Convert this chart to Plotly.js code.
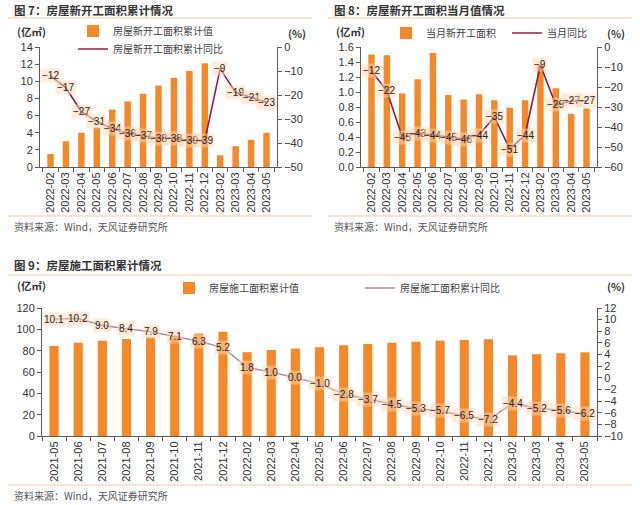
<!DOCTYPE html>
<html>
<head>
<meta charset="utf-8">
<script src="https://cdn.plot.ly/plotly-3.0.1.min.js"></script>
<style>
html,body{margin:0;padding:0;background:#fff;}
#chart{width:640px;height:505px;}
</style>
</head>
<body>
<div id="chart"></div>
<script>
// ---------- data ----------
const months7 = ['2022-02','2022-03','2022-04','2022-05','2022-06','2022-07','2022-08','2022-09','2022-10','2022-11','2022-12','2023-02','2023-03','2023-04','2023-05'];
const newStartCum = [1.52, 3.0, 4.0, 4.6, 6.7, 7.65, 8.55, 9.5, 10.4, 11.2, 12.1, 1.36, 2.43, 3.17, 4.0];
const newStartCumYoY = [-12, -17, -27, -31, -34, -36, -37, -38, -38, -39, -39, -9, -19, -21, -23];

const months8 = months7;
const newStartMonthly = [1.50, 1.49, 0.98, 1.17, 1.52, 0.96, 0.90, 0.97, 0.89, 0.79, 0.89, 1.36, 1.05, 0.71, 0.78];
const newStartMonthlyYoY = [-12, -22, -45, -43, -44, -45, -46, -44, -35, -51, -44, -9, -29, -27, -27];

const months9 = ['2021-05','2021-06','2021-07','2021-08','2021-09','2021-10','2021-11','2021-12','2022-02','2022-03','2022-04','2022-05','2022-06','2022-07','2022-08','2022-09','2022-10','2022-11','2022-12','2023-02','2023-03','2023-04','2023-05'];
const constructionCum = [84.4, 87.5, 89.4, 91.0, 92.4, 94.0, 96.0, 97.8, 78.6, 80.7, 82.0, 83.2, 85.0, 86.3, 87.4, 88.4, 89.3, 90.0, 90.8, 75.6, 76.7, 77.6, 78.5];
const constructionCumYoY = [10.1, 10.2, 9.0, 8.4, 7.9, 7.1, 6.3, 5.2, 1.8, 1.0, 0.0, -1.0, -2.8, -3.7, -4.5, -5.3, -5.7, -6.5, -7.2, -4.4, -5.2, -5.6, -6.2];

const names = {
  bar7: '房屋新开工面积累计值', line7: '房屋新开工面积累计同比',
  bar8: '当月新开工面积', line8: '当月同比',
  bar9: '房屋施工面积累计值', line9: '房屋施工面积累计同比'
};

// ---------- style ----------
const ORANGE = '#F5892A';
const MAROON = '#8E2045';
const MAUVE = '#B9869F';
const AXIS = '#595959';
const TICKFONT = {family: 'Liberation Sans, Arial, sans-serif', size: 11, color: '#333'};
const CJK = 'Noto Sans CJK SC, sans-serif';
const W = 640, H = 505;
const px = v => v / W;
const py = v => 1 - v / H;

const fmt = v => String(v).replace('-', '−');
const fmt1 = v => v.toFixed(1).replace('-', '−');

const traces = [
  {type:'bar', x: months7, y: newStartCum, name: names.bar7, marker:{color: ORANGE}, width: 0.42, xaxis:'x', yaxis:'y', legend:'legend'},
  {type:'scatter', mode:'lines', x: months7, y: newStartCumYoY, name: names.line7, line:{color: MAROON, width: 1.6}, xaxis:'x', yaxis:'y2', legend:'legend2'},
  {type:'bar', x: months8, y: newStartMonthly, name: names.bar8, marker:{color: ORANGE}, width: 0.42, xaxis:'x3', yaxis:'y3', legend:'legend3'},
  {type:'scatter', mode:'lines', x: months8, y: newStartMonthlyYoY, name: names.line8, line:{color: MAROON, width: 1.6}, xaxis:'x3', yaxis:'y4', legend:'legend4'},
  {type:'bar', x: months9, y: constructionCum, name: names.bar9, marker:{color: ORANGE}, width: 0.38, xaxis:'x5', yaxis:'y5', legend:'legend5'},
  {type:'scatter', mode:'lines', x: months9, y: constructionCumYoY, name: names.line9, line:{color: MAUVE, width: 1.5}, xaxis:'x5', yaxis:'y6', legend:'legend6'}
];

function xax(domain, anchor) {
  return {type:'category', domain: domain, anchor: anchor, showline:true, linecolor: AXIS, linewidth:1,
    ticks:'outside', tickson:'boundaries', ticklen:4, tickcolor: AXIS, tickangle:-90,
    tickfont: TICKFONT, showgrid:false, zeroline:false, fixedrange:true};
}
function yax(domain, anchor, range, dtick, extra) {
  return Object.assign({domain: domain, anchor: anchor, range: range, dtick: dtick, showline:true, linecolor: AXIS, linewidth:1,
    ticks:'outside', ticklen:4, tickcolor: AXIS, tickfont: TICKFONT, showgrid:false, zeroline:false}, extra || {});
}

const topY = [py(167), py(47)];
const botY = [py(436), py(308)];

const legendBase = {bgcolor:'rgba(0,0,0,0)', borderwidth:0, itemwidth:30, xanchor:'left', yanchor:'middle',
  font:{family: CJK, size: 10, color:'#404040'}};
function leg(x, y) { return Object.assign({}, legendBase, {x: px(x), y: py(y), orientation:'v'}); }

const annotations = [];
function title(text, x, y, size, bold, color) {
  annotations.push({xref:'paper', yref:'paper', x: px(x), y: py(y), xanchor:'left', yanchor:'middle', showarrow:false,
    text: bold ? '<b>' + text + '</b>' : text, font:{family: CJK, size: size, color: color || '#333'}});
}
title('图 7：房屋新开工面积累计情况', 12, 10, 11.5, true);
title('图 8：房屋新开工面积当月值情况', 332, 10, 11.5, true);
title('图 9：房屋施工面积累计情况', 12, 265, 11.5, true);
title('资料来源：Wind，天风证券研究所', 12, 227, 10, false, '#555');
title('资料来源：Wind，天风证券研究所', 332, 227, 10, false, '#555');
title('资料来源：Wind，天风证券研究所', 12, 495, 10, false, '#555');
title('(亿㎡)', 15, 31, 10.5, true);
title('(%)', 286, 33, 10.5, true);
title('(亿㎡)', 334, 31, 10.5, true);
title('(%)', 605, 33, 10.5, true);
title('(亿㎡)', 15, 285, 10.5, true);
title('(%)', 605, 286, 10.5, true);

const BOX = 'rgba(255,215,175,0.5)';
function labels(xs, ys, yref, xref, f) {
  xs.forEach((c, i) => annotations.push({xref: xref, yref: yref, x: c, y: ys[i], text: f(ys[i]), showarrow:false,
    bgcolor: BOX, borderpad: 1, xanchor:'center', yanchor:'middle',
    font:{family:'Liberation Sans, Arial, sans-serif', size: 10, color:'#222'}}));
}
labels(months7, newStartCumYoY, 'y2', 'x', fmt);
labels(months8, newStartMonthlyYoY, 'y4', 'x3', fmt);
labels(months9, constructionCumYoY, 'y6', 'x5', fmt1);

const LINEC = '#F3C9A3';
const shapes = [
  {type:'line', xref:'paper', yref:'paper', x0:px(8), x1:px(312), y0:py(18), y1:py(18), line:{color:LINEC, width:1}},
  {type:'line', xref:'paper', yref:'paper', x0:px(328), x1:px(632), y0:py(18), y1:py(18), line:{color:LINEC, width:1}},
  {type:'line', xref:'paper', yref:'paper', x0:px(8), x1:px(312), y0:py(216), y1:py(216), line:{color:LINEC, width:1}},
  {type:'line', xref:'paper', yref:'paper', x0:px(328), x1:px(632), y0:py(216), y1:py(216), line:{color:LINEC, width:1}},
  {type:'line', xref:'paper', yref:'paper', x0:px(8), x1:px(632), y0:py(275), y1:py(275), line:{color:LINEC, width:1}},
  {type:'line', xref:'paper', yref:'paper', x0:px(8), x1:px(632), y0:py(485), y1:py(485), line:{color:LINEC, width:1}}
];

const layout = {
  width: W, height: H,
  margin: {l:0, r:0, t:0, b:0},
  paper_bgcolor:'#fff', plot_bgcolor:'rgba(0,0,0,0)',
  showlegend: true,
  xaxis: xax([px(40), px(277)], 'y'),
  yaxis: yax(topY, 'x', [0, 14], 2),
  yaxis2: yax(topY, 'x', [-50, 0], 10, {overlaying:'y', side:'right'}),
  xaxis3: xax([px(361), px(597)], 'y3'),
  yaxis3: yax(topY, 'x3', [0, 1.6], 0.2, {tickformat:'.1f'}),
  yaxis4: yax(topY, 'x3', [-60, 0], 10, {overlaying:'y3', side:'right'}),
  xaxis5: xax([px(42), px(597)], 'y5'),
  yaxis5: yax(botY, 'x5', [0, 120], 20),
  yaxis6: yax(botY, 'x5', [-10, 12], 2, {overlaying:'y5', side:'right'}),
  legend: leg(73, 31),
  legend2: leg(73, 49),
  legend3: leg(386, 33),
  legend4: leg(507, 33),
  legend5: leg(169, 288),
  legend6: leg(360, 288),
  annotations: annotations,
  shapes: shapes
};

Plotly.newPlot('chart', traces, layout, {displayModeBar:false, staticPlot:true});
</script>
</body>
</html>
